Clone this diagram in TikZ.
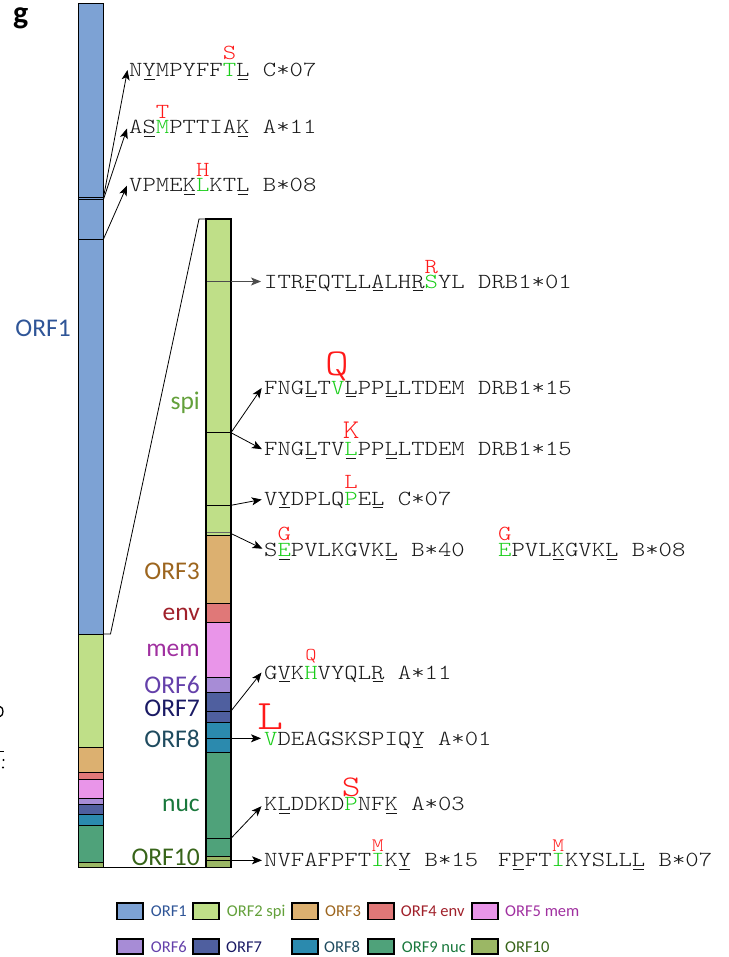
\documentclass[tikz,border=0pt]{standalone}
\usepackage{fontspec}
\usetikzlibrary{arrows.meta,calc}
\newfontfamily\pepfont{lmmonolt10-regular.otf}[FakeStretch=1.185]
\newfontfamily\labfont{Carlito}
% segment fills
\definecolor{fORFa}{RGB}{125,162,212}
\definecolor{fORFb}{RGB}{191,223,136}
\definecolor{fORFc}{RGB}{220,176,112}
\definecolor{fORFd}{RGB}{224,120,120}
\definecolor{fORFe}{RGB}{233,149,233}
\definecolor{fORFf}{RGB}{167,140,214}
\definecolor{fORFg}{RGB}{79,95,159}
\definecolor{fORFh}{RGB}{43,138,174}
\definecolor{fORFi}{RGB}{79,162,122}
\definecolor{fORFj}{RGB}{155,183,101}
% label colours
\definecolor{tORFa}{RGB}{47,85,151}
\definecolor{tORFb}{RGB}{99,160,58}
\definecolor{tORFc}{RGB}{156,101,30}
\definecolor{tORFd}{RGB}{160,32,42}
\definecolor{tORFe}{RGB}{160,48,160}
\definecolor{tORFf}{RGB}{100,64,170}
\definecolor{tORFg}{RGB}{26,26,100}
\definecolor{tORFh}{RGB}{31,75,95}
\definecolor{tORFi}{RGB}{25,120,60}
\definecolor{tORFj}{RGB}{55,100,25}
\definecolor{mutred}{RGB}{255,25,25}
\definecolor{hitgreen}{RGB}{25,205,25}
% one character cell of the peptide font
\newlength\cw
\setlength\cw{13.38pt}
\newcommand\ul[1]{\rlap{\hspace{1.5pt}\rule[-3pt]{10.5pt}{0.9pt}}#1}
% #1 size of the substituted residue, #2 its lift, #3 substituted residue, #4 original residue
\newcommand\mut[4]{\rlap{\makebox[\cw][c]{\raisebox{#2}[0pt][0pt]{\fontsize{#1}{#1}\selectfont\color{mutred}#3}}}\textcolor{hitgreen}{#4}}
\tikzset{
  pep/.style={anchor=base west, inner sep=0pt, text=black!90,
    font=\pepfont\fontsize{21.5}{26}\selectfont},
  lab/.style={anchor=base east, inner sep=0pt, font=\labfont\fontsize{25.5}{30}\selectfont},
  leg/.style={anchor=base west, inner sep=0pt, font=\labfont\fontsize{16.5}{20}\selectfont},
  legbox/.style={draw=black, line width=1.6pt},
  seg/.style={line width=0.9pt},
  barframe/.style={draw=black, line width=1.1pt},
  arr/.style={-{Stealth[length=10pt,width=8pt,inset=2.5pt]}, line width=0.8pt},
  link/.style={line width=0.8pt},
}
\begin{document}
\begin{tikzpicture}[x=1pt,y=-1pt]
\useasboundingbox (0,0) rectangle (728,957);

\node[anchor=base west, inner sep=0pt, font=\labfont\bfseries\fontsize{32}{32}\selectfont] (panel) at (13,23.5) {g};

% ---- full genome bar ----
\fill[fORFa] (78.5,3.3) rectangle (103.5,634);
\fill[fORFb] (78.5,634) rectangle (103.5,747);
\fill[fORFc] (78.5,747) rectangle (103.5,772.3);
\fill[fORFd] (78.5,772.3) rectangle (103.5,779);
\fill[fORFe] (78.5,779) rectangle (103.5,798.3);
\fill[fORFf] (78.5,798.3) rectangle (103.5,804);
\fill[fORFg] (78.5,804) rectangle (103.5,814.7);
\fill[fORFh] (78.5,814.7) rectangle (103.5,825.3);
\fill[fORFi] (78.5,825.3) rectangle (103.5,862.3);
\fill[fORFj] (78.5,862.3) rectangle (103.5,867.7);
\foreach \yy in {197.3,199.3,239,634,747,772.3,779,798.3,804,814.7,825.3,862.3}
  \draw[seg] (78.5,\yy) -- (103.5,\yy);
\draw[barframe] (78.5,3.3) rectangle (103.5,867.7);

% ---- enlarged 3' part ----
\fill[fORFb] (206,219) rectangle (231,535);
\fill[fORFc] (206,535) rectangle (231,603.3);
\fill[fORFd] (206,603.3) rectangle (231,622.3);
\fill[fORFe] (206,622.3) rectangle (231,677);
\fill[fORFf] (206,677) rectangle (231,692.5);
\fill[fORFg] (206,692.5) rectangle (231,722.3);
\fill[fORFh] (206,722.3) rectangle (231,752.3);
\fill[fORFi] (206,752.3) rectangle (231,856.5);
\fill[fORFj] (206,856.5) rectangle (231,867.7);
\draw[seg, black!60] (206,532.3) -- (231,532.3);
\foreach \yy in {432.7,505.3,535,603.3,622.3,677,692.5,711,722.3,738.3,752.3,838.3,856.5,860.3}
  \draw[seg] (206,\yy) -- (231,\yy);
\draw[seg, black!70] (206,281.5) -- (231,281.5);
\draw[barframe] (206,219) rectangle (231,867.7);

% zoom guides
\draw[link] (103.5,634) -- (110.5,634) -- (199,219) -- (206,219);
\draw[link] (103.5,867.7) -- (206,867.7);

% ---- region labels ----
\node[lab, text=tORFa] (lORF1) at (71,336) {ORF1};
\node[lab, text=tORFb] (lspi) at (200,409) {spi};
\node[lab, text=tORFc] (lORF3) at (200,579) {ORF3};
\node[lab, text=tORFd] (lenv) at (200,620) {env};
\node[lab, text=tORFe] (lmem) at (200,656.5) {mem};
\node[lab, text=tORFf] (lORF6) at (200,693.5) {ORF6};
\node[lab, text=tORFg] (lORF7) at (200,716.7) {ORF7};
\node[lab, text=tORFh] (lORF8) at (200,747.7) {ORF8};
\node[lab, text=tORFi] (lnuc) at (200,811.5) {nuc};
\node[lab, text=tORFj] (lORF10) at (200,865) {ORF10};

% ---- epitopes ----
\node[pep] (p1) at (129,77) {N\ul{Y}MPYFF\mut{21.5pt}{17pt}{S}{T}\ul{L} C*07};
\node[pep] (p2) at (129,134) {A\ul{S}\mut{21.5pt}{15.5pt}{T}{M}PTTIA\ul{K} A*11};
\node[pep] (p3) at (129,191.7) {VPME\ul{K}\mut{21.5pt}{15.5pt}{H}{L}KT\ul{L} B*08};
\node[pep] (p4) at (264,288) {ITR\ul{F}QT\ul{L}L\ul{A}LH\ul{R}\mut{21.5pt}{15pt}{R}{S}YL DRB1*01};
\node[pep] (p5) at (264,394) {FNG\ul{L}T\mut{38pt}{19pt}{Q}{V}\ul{L}PP\ul{L}LTDEM DRB1*15};
\node[pep] (p6) at (264,455.7) {FNG\ul{L}TV\ul{\mut{27pt}{17pt}{K}{L}}PP\ul{L}LTDEM DRB1*15};
\node[pep] (p7) at (264,505) {V\ul{Y}DPLQ\mut{21.5pt}{16.5pt}{L}{P}E\ul{L} C*07};
\node[pep] (p8) at (264,556.7) {S\ul{\mut{21.5pt}{16.5pt}{G}{E}}PVLKGVK\ul{L} B*40};
\node[pep] (p8b) at (498,556.7) {\mut{21.5pt}{16.5pt}{G}{E}PVL\ul{K}GVK\ul{L} B*08};
\node[pep] (p9) at (264,679) {G\ul{V}K\mut{18pt}{19pt}{Q}{H}VYQL\ul{R} A*11};
\node[pep] (p10) at (264,745) {\mut{42pt}{15.7pt}{L}{V}DEAGSKSPIQ\ul{Y} A*01};
\node[pep] (p11) at (264,810.7) {K\ul{L}DDKD\mut{30pt}{14pt}{S}{P}NF\ul{K} A*03};
\node[pep] (p12) at (264,866.7) {NVFAFPFT\mut{19pt}{15.7pt}{M}{I}K\ul{Y} B*15};
\node[pep] (p12b) at (498,866.7) {F\ul{P}FT\mut{19pt}{15.7pt}{M}{I}KYSLL\ul{L} B*07};

% ---- arrow origins on the bars ----
\coordinate (a1) at (103.5,197.3);
\coordinate (a2) at (103.5,199.3);
\coordinate (a3) at (103.5,239);
\coordinate (b1) at (231,281.5);
\coordinate (b2) at (231,432.7);
\coordinate (b3) at (231,505.3);
\coordinate (b4) at (231,533.5);
\coordinate (b5) at (231,711);
\coordinate (b6) at (231,738.3);
\coordinate (b7) at (231,838.3);
\coordinate (b8) at (231,860.3);

\draw[arr] (a1) -- ([shift={(-1.5,-7)}]p1.base west);
\draw[arr] (a2) -- ([shift={(-2,-5.5)}]p2.base west);
\draw[arr] (a3) -- ([shift={(-2,-6)}]p3.base west);
\draw[arr, black!70] (b1) -- ($(p4.base west |- b1)+(-3,0)$);
\draw[arr] (b2) -- ([shift={(-2.3,-6)}]p5.base west);
\draw[arr] (b2) -- ([shift={(-2,-6.5)}]p6.base west);
\draw[arr] (b3) -- ([shift={(-2.3,-5.5)}]p7.base west);
\draw[arr] (b4) -- ([shift={(-1.5,-8)}]p8.base west);
\draw[arr] (b5) -- ([shift={(-2.5,-6.5)}]p9.base west);
\draw[arr] (b6) -- ($(p10.base west |- b6)+(-3,0)$);
\draw[arr] (b7) -- ([shift={(-2.5,-4.5)}]p11.base west);
\draw[arr] (b8) -- ($(p12.base west |- b8)+(-2,0)$);

% ---- legend ----
\foreach \xx/\cc/\tx/\tc/\nm in {116.7/fORFa/150.7/tORFa/ORF1, 192.7/fORFb/226.7/tORFb/ORF2 spi,
    291.7/fORFc/325/tORFc/ORF3, 367.7/fORFd/400.7/tORFd/ORF4 env, 471.7/fORFe/505/tORFe/ORF5 mem}{
  \draw[legbox, fill=\cc] (\xx,902.7) rectangle ++(26,16.6);
  \node[leg, text=\tc] at (\tx,916.7) {\nm};
}
\foreach \xx/\cc/\tx/\tc/\nm in {116.7/fORFf/150.7/tORFf/ORF6, 192.7/fORFg/226/tORFg/ORF7,
    291.7/fORFh/324/tORFh/ORF8, 367.7/fORFi/401.7/tORFi/ORF9 nuc, 471.7/fORFj/505/tORFj/ORF10}{
  \draw[legbox, fill=\cc] (\xx,938.7) rectangle ++(26,15.3);
  \node[leg, text=\tc] at (\tx,952) {\nm};
}

% ---- cropped marks at the left edge ----
\draw[line width=1.3pt] (0,706.5) .. controls (4,707) and (4,716) .. (0,716.5);
\fill (0,750.5) rectangle (4,752.2);
\fill (3.5,760) circle (1.1);
\fill (3,767.5) circle (1.1);
\end{tikzpicture}
\end{document}
